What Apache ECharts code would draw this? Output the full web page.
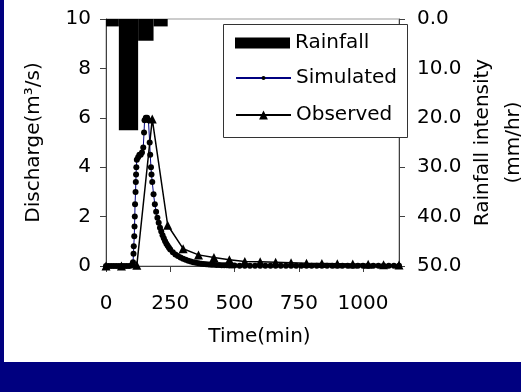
<!DOCTYPE html>
<html>
<head>
<meta charset="utf-8">
<script src="https://cdn.jsdelivr.net/npm/echarts@6/dist/echarts.min.js"></script>
<style>
  html, body { margin: 0; padding: 0; }
  body { width: 521px; height: 392px; background: #000080; position: relative; overflow: hidden; }
  #chart { position: absolute; left: 4px; top: 0; width: 517px; height: 362px; background: #fff; }
</style>
</head>
<body>
<div id="chart"></div>
<script>
// rainfall blocks (min) and intensity (mm/hr)
const rainStart = [0, 50, 125, 185]
const rainEnd = [50, 125, 185, 240]
const rainValue = [1.5, 22.5, 4.4, 1.5]

// simulated discharge (m3/s)
const simTime = [0, 10, 20, 30, 40, 50, 60, 70, 80, 90, 100,
  103, 105, 107, 108, 110, 111, 112, 113, 115, 116, 117, 118, 120, 125, 130, 135, 140, 145, 148, 150,
  155, 160, 165, 170, 172, 175, 177, 180, 185, 190, 195, 200,
  205, 210, 215, 220, 225, 230, 235, 240, 245, 250,
  260, 270, 280, 290, 300, 310, 320, 330, 340, 350, 360, 370, 380, 390, 400,
  410, 420, 430, 440, 450, 460, 470, 480, 490, 500,
  520, 540, 560, 580, 600, 620, 640, 660, 680, 700, 720, 740, 760, 780, 800,
  820, 840, 860, 880, 900, 920, 940, 960, 980, 1000, 1020, 1040, 1060, 1080,
  1100, 1120, 1140]
const simFlow = [0, 0, 0, 0, 0, 0, 0, 0, 0, 0, 0.02,
  0.08, 0.15, 0.5, 0.8, 1.2, 1.6, 2.0, 2.5, 3.0, 3.4, 3.7, 4.0, 4.3, 4.4, 4.5, 4.5, 4.6, 4.8, 5.4, 5.9,
  6.0, 6.0, 5.9, 5.0, 4.5, 4.0, 3.7, 3.4, 2.9, 2.5, 2.2, 1.95,
  1.75, 1.55, 1.4, 1.25, 1.12, 1.0, 0.9, 0.82, 0.74, 0.67,
  0.56, 0.47, 0.4, 0.34, 0.29, 0.25, 0.21, 0.18, 0.15, 0.13, 0.11, 0.095, 0.08, 0.07, 0.06,
  0.055, 0.05, 0.045, 0.04, 0.035, 0.03, 0.028, 0.025, 0.022, 0.02,
  0.01, 0.01, 0.01, 0.01, 0.01, 0.01, 0.01, 0.01, 0.01, 0.01, 0.01, 0.01, 0.01, 0.01, 0.01,
  0.01, 0.01, 0.01, 0.01, 0.01, 0.01, 0.01, 0.01, 0.01, 0.01, 0.01, 0.01, 0.01, 0.01,
  0.01, 0.01, 0.01]

// observed discharge, hourly
const obsTime = [0, 60, 120, 180, 240, 300, 360, 420, 480, 540, 600, 660, 720, 780, 840, 900, 960, 1020, 1080, 1140]
const obsFlow = [0, 0, 0.03, 5.95, 1.65, 0.7, 0.45, 0.34, 0.25, 0.18, 0.17, 0.15, 0.13, 0.11, 0.1, 0.09, 0.08, 0.07, 0.05, 0.04]

const flowTicks = [0, 2, 4, 6, 8, 10]
const rainTicks = [0, 10, 20, 30, 40, 50]

const font = 'DejaVu Sans'
const axisColor = '#404040'
const legendText = { fontFamily: font, fontSize: 20, color: '#000' }

const chart = echarts.init(document.getElementById('chart'), null, { renderer: 'canvas' })

// one legend per entry so each keeps its own symbol size
const legendBase = {
  orient: 'vertical',
  left: 231,
  padding: 0,
  selectedMode: false,
  itemWidth: 55,
  z: 11,
  textStyle: legendText
}

chart.setOption({
  animation: false,
  textStyle: { fontFamily: font, color: '#000' },
  grid: {
    left: 102,
    right: 122,
    top: 19,
    bottom: 96,
    outerBoundsMode: 'none',
    containLabel: false,
    show: true,
    borderColor: '#999',
    borderWidth: 1
  },
  graphic: [{
    type: 'rect',
    z: 10,
    shape: { x: 219.5, y: 24.5, width: 184, height: 113 },
    style: { fill: '#fff', stroke: '#333', lineWidth: 1 }
  }],
  legend: [
    Object.assign({}, legendBase, { top: 33, itemHeight: 11, data: [{ name: 'Rainfall', icon: 'rect' }] }),
    Object.assign({}, legendBase, { top: 68, itemHeight: 5, data: ['Simulated'] }),
    Object.assign({}, legendBase, { top: 105, itemHeight: 11, data: ['Observed'] })
  ],
  xAxis: {
    type: 'value',
    min: 0,
    max: 1140,
    interval: 250,
    name: 'Time(min)',
    nameLocation: 'middle',
    nameGap: 61,
    nameTextStyle: { fontFamily: font, fontSize: 20, color: '#000', padding: [0, 0, 0, 14] },
    axisLine: { show: true, lineStyle: { color: axisColor } },
    axisTick: { show: true, length: 6, lineStyle: { color: axisColor } },
    axisLabel: {
      fontFamily: font, fontSize: 20, color: '#000', margin: 28, showMaxLabel: false,
      formatter: v => String(v)
    },
    splitLine: { show: false }
  },
  yAxis: [
    {
      type: 'value',
      min: flowTicks[0],
      max: flowTicks[flowTicks.length - 1],
      interval: 2,
      name: 'Discharge(m³/s)',
      nameLocation: 'middle',
      nameGap: 62,
      nameTextStyle: { fontFamily: font, fontSize: 20, color: '#000' },
      axisLine: { show: true, lineStyle: { color: axisColor } },
      axisTick: { show: true, length: 6, lineStyle: { color: axisColor } },
      axisLabel: { fontFamily: font, fontSize: 20, color: '#000', margin: 15, formatter: v => String(v) },
      splitLine: { show: false }
    },
    {
      type: 'value',
      position: 'right',
      inverse: true,
      min: rainTicks[0],
      max: rainTicks[rainTicks.length - 1],
      interval: 10,
      name: 'Rainfall intensity\n(mm/hr)',
      nameLocation: 'middle',
      nameGap: 68,
      nameMoveOverlap: false,
      nameTextStyle: { fontFamily: font, fontSize: 20, color: '#000', lineHeight: 31 },
      axisLine: { show: true, lineStyle: { color: axisColor } },
      axisTick: { show: true, length: 6, lineStyle: { color: axisColor } },
      axisLabel: {
        fontFamily: font, fontSize: 20, color: '#000', margin: 18,
        formatter: v => v.toFixed(1)
      },
      splitLine: { show: false }
    }
  ],
  series: [
    {
      name: 'Rainfall',
      type: 'custom',
      yAxisIndex: 1,
      itemStyle: { color: '#000' },
      encode: { x: [0, 1], y: 2 },
      data: rainStart.map((s, i) => [s, rainEnd[i], rainValue[i]]),
      renderItem: (params, api) => {
        const p0 = api.coord([api.value(0), 0])
        const p1 = api.coord([api.value(1), api.value(2)])
        return {
          type: 'rect',
          shape: { x: p0[0], y: p0[1], width: p1[0] - p0[0], height: p1[1] - p0[1] },
          style: { fill: '#000' }
        }
      }
    },
    {
      name: 'Simulated',
      type: 'line',
      symbol: 'circle',
      symbolSize: 6,
      showAllSymbol: true,
      lineStyle: { color: '#000080', width: 1 },
      itemStyle: { color: '#000' },
      data: simTime.map((t, i) => [t, simFlow[i]])
    },
    {
      name: 'Observed',
      type: 'line',
      symbol: 'triangle',
      symbolSize: 9,
      showAllSymbol: true,
      lineStyle: { color: '#000', width: 1.5 },
      itemStyle: { color: '#000' },
      data: obsTime.map((t, i) => [t, obsFlow[i]])
    }
  ]
})
</script>
</body>
</html>
